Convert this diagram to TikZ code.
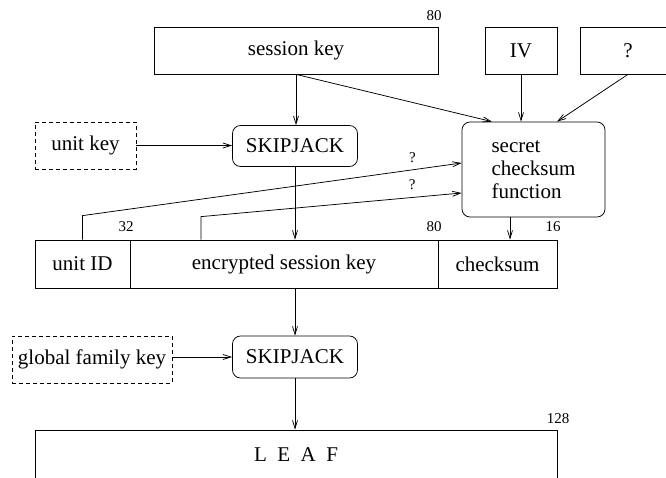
\documentclass[tikz,border=0pt]{standalone}
\usepackage{fontspec}
\setmainfont{Liberation Serif}
\newfontfamily\timesfont{Liberation Serif}
\usetikzlibrary{arrows.meta,positioning,calc}

\begin{document}
\begin{tikzpicture}[x=1pt,y=1pt,line width=0.75pt,
  >={Straight Barb[length=8pt,width=5pt]},
  box/.style={draw,minimum height=47pt,inner sep=0pt,font=\timesfont\fontsize{21}{23}\selectfont},
  keybox/.style={box,dash pattern=on 4pt off 3pt},
  cipher/.style={box,rounded corners=8pt,minimum width=125pt,minimum height=41pt},
  field/.style={box,minimum height=48pt},
  num/.style={font=\timesfont\fontsize{15}{17}\selectfont,inner sep=0pt}]
\useasboundingbox (0,0) rectangle (666,477);
\node[box,minimum width=284pt] (skey) at (296,426.5) {session key};
\node[box,minimum width=72pt] (iv) at (521,426.5) {IV};
\node[box,minimum width=96pt] (qbox) at (628,426.5) {?};
\node[keybox,minimum width=101pt] (ukey) at (85.5,331.5) {unit key};
\node[cipher] (sj1) at (295,331) {SKIPJACK};
\node[box,rounded corners=8pt,minimum width=143pt,minimum height=95pt,align=left] (csf) at (533.5,307.5) {secret\\checksum\\function};
\node[field,minimum width=95pt] (uid) at (82.5,213) {unit ID};
\node[field,minimum width=308pt] (esk) at (284,213) {encrypted session key};
\node[field,minimum width=119pt] (cks) at (497.5,213) {checksum};
\node[keybox,minimum width=160pt] (gfk) at (92,117.5) {global family key};
\node[cipher,minimum height=42pt] (sj2) at (295,120) {SKIPJACK};
\node[box,minimum width=522pt,minimum height=50pt] (leaf) at (296,22) {L\hspace{0.5em}E\hspace{0.5em}A\hspace{0.5em}F};

\node[num] (n1) at (434,461) {80};
\node[num] (n2) at (126,250) {32};
\node[num] (n3) at (434,250) {80};
\node[num] (n4) at (553,250) {16};
\node[num] (n5) at (558,58) {128};

\draw[->] (skey.south) -- (skey.south |- sj1.north);
\draw[->] (skey.south) -- ([xshift=-41.5pt]csf.north);
\draw[->] (iv.south) -- (iv.south |- csf.north);
\draw[->] (qbox.south) -- ([xshift=23.5pt]csf.north);
\draw[->] (ukey.east) -- (ukey.east -| sj1.west);
\draw[->] (sj1.south) -- (sj1.south |- esk.north);
\draw[->] ([xshift=-23.5pt]csf.south) -- ([xshift=-23.5pt]csf.south |- cks.north);
\draw[->] (uid.north) -- ++(0,24) -- node[num,pos=0.87,above=7pt] {?} ([yshift=6.5pt]csf.west);
\draw[->] ([xshift=-83pt]esk.north) -- ++(0,23) -- node[num,pos=0.81,above=7pt] {?} ([yshift=-23.5pt]csf.west);
\draw[->] (sj2.north |- esk.south) -- (sj2.north);
\draw[->] (sj2.south) -- (sj2.south |- leaf.north);
\draw[->] (gfk.east |- sj2.west) -- (sj2.west);
\end{tikzpicture}
\end{document}
